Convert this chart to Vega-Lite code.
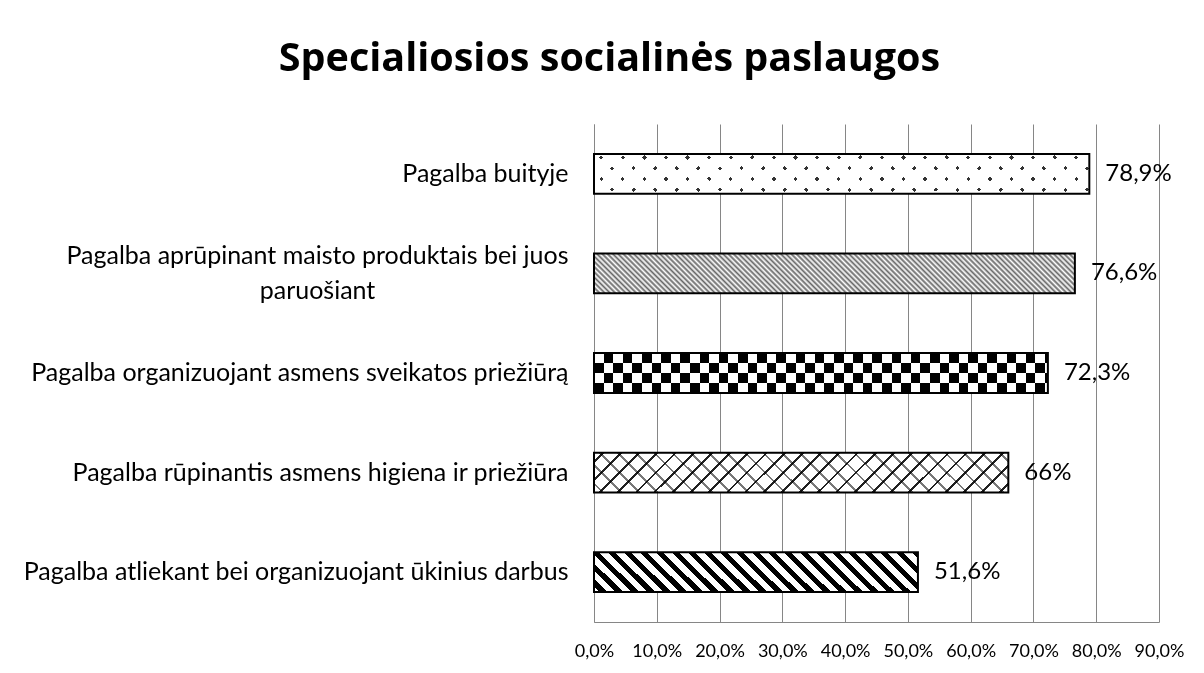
{
  "$schema": "https://vega.github.io/schema/vega-lite/v6.json",
  "autosize": "none",
  "width": 565,
  "height": 498,
  "padding": {"left": 594, "top": 124, "right": 45, "bottom": 51},
  "background": "#ffffff",
  "config": {"view": {"stroke": null}, "font": "Lato"},
  "title": {"text": "Specialiosios socialinės paslaugos", "font": "Open Sans", "fontSize": 39.5, "fontWeight": "bold", "color": "#000000", "anchor": "middle", "frame": "group", "dx": -267, "offset": 14, "baseline": "alphabetic"},
  "data": {"values": [
    {"cat": "Pagalba buityje", "value": 0.789, "label": "78,9%"},
    {"cat": "Pagalba aprūpinant maisto produktais bei juos paruošiant", "value": 0.766, "label": "76,6%"},
    {"cat": "Pagalba organizuojant asmens sveikatos priežiūrą", "value": 0.723, "label": "72,3%"},
    {"cat": "Pagalba rūpinantis asmens higiena ir priežiūra", "value": 0.66, "label": "66%"},
    {"cat": "Pagalba atliekant bei organizuojant ūkinius darbus", "value": 0.516, "label": "51,6%"}
  ]},
  "encoding": {
    "y": {"field": "cat", "type": "nominal", "sort": null, "title": null,
      "scale": {"paddingInner": 0.6, "paddingOuter": 0.3},
      "axis": {"domain": true, "domainColor": "#868686", "domainWidth": 1, "ticks": false, "tickSize": 0,
        "labelPadding": {"condition": {"test": "indexof(datum.value, ' paruošiant') > 0", "value": 277}, "value": 26},
        "labelAlign": {"condition": {"test": "indexof(datum.value, ' paruošiant') > 0", "value": "center"}, "value": "right"},
        "labelOffset": {"condition": {"test": "indexof(datum.value, ' paruošiant') > 0", "value": -17}, "value": 0},
        "labelFont": "Lato", "labelFontSize": 25, "labelColor": "#000000", "labelLimit": 0, "labelLineHeight": 35,
        "labelExpr": "indexof(datum.label, ' paruošiant') > 0 ? [replace(datum.label, ' paruošiant', ''), 'paruošiant'] : datum.label"}},
    "x": {"field": "value", "type": "quantitative", "title": null,
      "scale": {"domain": [0, 0.9], "nice": false},
      "axis": {"values": [0, 0.1, 0.2, 0.3, 0.4, 0.5, 0.6, 0.7, 0.8, 0.9], "grid": true, "gridColor": "#868686", "gridWidth": 1, "gridOpacity": 1, "domain": true, "domainColor": "#868686", "ticks": false, "tickSize": 0, "labelPadding": 20, "labelFont": "Lato", "labelFontSize": 18, "labelColor": "#000000", "labelFlush": false,
        "labelExpr": "replace(format(datum.value, '.1%'), '.', ',')"}}
  },
  "layer": [
    {"mark": {"type": "bar"},
     "encoding": {"color": {"field": "cat", "type": "nominal", "legend": null,
       "scale": {"domain": ["Pagalba buityje", "Pagalba aprūpinant maisto produktais bei juos paruošiant", "Pagalba organizuojant asmens sveikatos priežiūrą", "Pagalba rūpinantis asmens higiena ir priežiūra", "Pagalba atliekant bei organizuojant ūkinius darbus"],
                 "range": ["#ffffff", "#b4b4b4", "#ffffff", "#ffffff", "#ffffff"]}}}},
    {"transform": [{"filter": {"field": "cat", "equal": "Pagalba buityje"}}],
     "mark": {"type": "bar", "fill": {"gradient": "linear", "x1": 0, "y1": 0, "x2": 1.0828, "y2": 0.0874, "stops": [
       {"offset":0.016,"color":"white"},{"offset":0.016,"color":"#333"},{"offset":0.024,"color":"#333"},{"offset":0.024,"color":"white"},
       {"offset":0.056,"color":"white"},{"offset":0.056,"color":"#333"},{"offset":0.064,"color":"#333"},{"offset":0.064,"color":"white"},
       {"offset":0.096,"color":"white"},{"offset":0.096,"color":"#333"},{"offset":0.104,"color":"#333"},{"offset":0.104,"color":"white"},
       {"offset":0.136,"color":"white"},{"offset":0.136,"color":"#333"},{"offset":0.144,"color":"#333"},{"offset":0.144,"color":"white"},
       {"offset":0.176,"color":"white"},{"offset":0.176,"color":"#333"},{"offset":0.184,"color":"#333"},{"offset":0.184,"color":"white"},
       {"offset":0.216,"color":"white"},{"offset":0.216,"color":"#333"},{"offset":0.224,"color":"#333"},{"offset":0.224,"color":"white"},
       {"offset":0.256,"color":"white"},{"offset":0.256,"color":"#333"},{"offset":0.264,"color":"#333"},{"offset":0.264,"color":"white"},
       {"offset":0.296,"color":"white"},{"offset":0.296,"color":"#333"},{"offset":0.304,"color":"#333"},{"offset":0.304,"color":"white"},
       {"offset":0.336,"color":"white"},{"offset":0.336,"color":"#333"},{"offset":0.344,"color":"#333"},{"offset":0.344,"color":"white"},
       {"offset":0.376,"color":"white"},{"offset":0.376,"color":"#333"},{"offset":0.384,"color":"#333"},{"offset":0.384,"color":"white"},
       {"offset":0.416,"color":"white"},{"offset":0.416,"color":"#333"},{"offset":0.424,"color":"#333"},{"offset":0.424,"color":"white"},
       {"offset":0.456,"color":"white"},{"offset":0.456,"color":"#333"},{"offset":0.464,"color":"#333"},{"offset":0.464,"color":"white"},
       {"offset":0.496,"color":"white"},{"offset":0.496,"color":"#333"},{"offset":0.504,"color":"#333"},{"offset":0.504,"color":"white"},
       {"offset":0.536,"color":"white"},{"offset":0.536,"color":"#333"},{"offset":0.544,"color":"#333"},{"offset":0.544,"color":"white"},
       {"offset":0.576,"color":"white"},{"offset":0.576,"color":"#333"},{"offset":0.584,"color":"#333"},{"offset":0.584,"color":"white"},
       {"offset":0.616,"color":"white"},{"offset":0.616,"color":"#333"},{"offset":0.624,"color":"#333"},{"offset":0.624,"color":"white"},
       {"offset":0.656,"color":"white"},{"offset":0.656,"color":"#333"},{"offset":0.664,"color":"#333"},{"offset":0.664,"color":"white"},
       {"offset":0.696,"color":"white"},{"offset":0.696,"color":"#333"},{"offset":0.704,"color":"#333"},{"offset":0.704,"color":"white"},
       {"offset":0.736,"color":"white"},{"offset":0.736,"color":"#333"},{"offset":0.744,"color":"#333"},{"offset":0.744,"color":"white"},
       {"offset":0.776,"color":"white"},{"offset":0.776,"color":"#333"},{"offset":0.784,"color":"#333"},{"offset":0.784,"color":"white"},
       {"offset":0.816,"color":"white"},{"offset":0.816,"color":"#333"},{"offset":0.824,"color":"#333"},{"offset":0.824,"color":"white"},
       {"offset":0.856,"color":"white"},{"offset":0.856,"color":"#333"},{"offset":0.864,"color":"#333"},{"offset":0.864,"color":"white"},
       {"offset":0.896,"color":"white"},{"offset":0.896,"color":"#333"},{"offset":0.904,"color":"#333"},{"offset":0.904,"color":"white"},
       {"offset":0.936,"color":"white"},{"offset":0.936,"color":"#333"},{"offset":0.944,"color":"#333"},{"offset":0.944,"color":"white"},
       {"offset":0.976,"color":"white"},{"offset":0.976,"color":"#333"},{"offset":0.984,"color":"#333"},{"offset":0.984,"color":"white"}
     ]}}},
    {"transform": [{"filter": {"field": "cat", "equal": "Pagalba buityje"}}],
     "mark": {"type": "bar", "blend": "lighten", "fill": {"gradient": "linear", "x1": -0.1017, "y1": 0, "x2": 0.9811, "y2": -0.0874, "stops": [
       {"offset":0.016,"color":"white"},{"offset":0.016,"color":"#333"},{"offset":0.024,"color":"#333"},{"offset":0.024,"color":"white"},
       {"offset":0.056,"color":"white"},{"offset":0.056,"color":"#333"},{"offset":0.064,"color":"#333"},{"offset":0.064,"color":"white"},
       {"offset":0.096,"color":"white"},{"offset":0.096,"color":"#333"},{"offset":0.104,"color":"#333"},{"offset":0.104,"color":"white"},
       {"offset":0.136,"color":"white"},{"offset":0.136,"color":"#333"},{"offset":0.144,"color":"#333"},{"offset":0.144,"color":"white"},
       {"offset":0.176,"color":"white"},{"offset":0.176,"color":"#333"},{"offset":0.184,"color":"#333"},{"offset":0.184,"color":"white"},
       {"offset":0.216,"color":"white"},{"offset":0.216,"color":"#333"},{"offset":0.224,"color":"#333"},{"offset":0.224,"color":"white"},
       {"offset":0.256,"color":"white"},{"offset":0.256,"color":"#333"},{"offset":0.264,"color":"#333"},{"offset":0.264,"color":"white"},
       {"offset":0.296,"color":"white"},{"offset":0.296,"color":"#333"},{"offset":0.304,"color":"#333"},{"offset":0.304,"color":"white"},
       {"offset":0.336,"color":"white"},{"offset":0.336,"color":"#333"},{"offset":0.344,"color":"#333"},{"offset":0.344,"color":"white"},
       {"offset":0.376,"color":"white"},{"offset":0.376,"color":"#333"},{"offset":0.384,"color":"#333"},{"offset":0.384,"color":"white"},
       {"offset":0.416,"color":"white"},{"offset":0.416,"color":"#333"},{"offset":0.424,"color":"#333"},{"offset":0.424,"color":"white"},
       {"offset":0.456,"color":"white"},{"offset":0.456,"color":"#333"},{"offset":0.464,"color":"#333"},{"offset":0.464,"color":"white"},
       {"offset":0.496,"color":"white"},{"offset":0.496,"color":"#333"},{"offset":0.504,"color":"#333"},{"offset":0.504,"color":"white"},
       {"offset":0.536,"color":"white"},{"offset":0.536,"color":"#333"},{"offset":0.544,"color":"#333"},{"offset":0.544,"color":"white"},
       {"offset":0.576,"color":"white"},{"offset":0.576,"color":"#333"},{"offset":0.584,"color":"#333"},{"offset":0.584,"color":"white"},
       {"offset":0.616,"color":"white"},{"offset":0.616,"color":"#333"},{"offset":0.624,"color":"#333"},{"offset":0.624,"color":"white"},
       {"offset":0.656,"color":"white"},{"offset":0.656,"color":"#333"},{"offset":0.664,"color":"#333"},{"offset":0.664,"color":"white"},
       {"offset":0.696,"color":"white"},{"offset":0.696,"color":"#333"},{"offset":0.704,"color":"#333"},{"offset":0.704,"color":"white"},
       {"offset":0.736,"color":"white"},{"offset":0.736,"color":"#333"},{"offset":0.744,"color":"#333"},{"offset":0.744,"color":"white"},
       {"offset":0.776,"color":"white"},{"offset":0.776,"color":"#333"},{"offset":0.784,"color":"#333"},{"offset":0.784,"color":"white"},
       {"offset":0.816,"color":"white"},{"offset":0.816,"color":"#333"},{"offset":0.824,"color":"#333"},{"offset":0.824,"color":"white"},
       {"offset":0.856,"color":"white"},{"offset":0.856,"color":"#333"},{"offset":0.864,"color":"#333"},{"offset":0.864,"color":"white"},
       {"offset":0.896,"color":"white"},{"offset":0.896,"color":"#333"},{"offset":0.904,"color":"#333"},{"offset":0.904,"color":"white"},
       {"offset":0.936,"color":"white"},{"offset":0.936,"color":"#333"},{"offset":0.944,"color":"#333"},{"offset":0.944,"color":"white"},
       {"offset":0.976,"color":"white"},{"offset":0.976,"color":"#333"},{"offset":0.984,"color":"#333"},{"offset":0.984,"color":"white"}
     ]}}},
    {"transform": [{"filter": {"field": "cat", "equal": "Pagalba aprūpinant maisto produktais bei juos paruošiant"}}],
     "mark": {"type": "bar", "fill": {"gradient": "linear", "x1": -0.0873, "y1": 0, "x2": 0.9967, "y2": -0.0901, "stops": [
       {"offset":0,"color":"#fff"},{"offset":0.005,"color":"#666"},{"offset":0.01,"color":"#fff"},{"offset":0.015,"color":"#666"},{"offset":0.02,"color":"#fff"},{"offset":0.025,"color":"#666"},{"offset":0.03,"color":"#fff"},{"offset":0.035,"color":"#666"},{"offset":0.04,"color":"#fff"},{"offset":0.045,"color":"#666"},
       {"offset":0.05,"color":"#fff"},{"offset":0.055,"color":"#666"},{"offset":0.06,"color":"#fff"},{"offset":0.065,"color":"#666"},{"offset":0.07,"color":"#fff"},{"offset":0.075,"color":"#666"},{"offset":0.08,"color":"#fff"},{"offset":0.085,"color":"#666"},{"offset":0.09,"color":"#fff"},{"offset":0.095,"color":"#666"},
       {"offset":0.1,"color":"#fff"},{"offset":0.105,"color":"#666"},{"offset":0.11,"color":"#fff"},{"offset":0.115,"color":"#666"},{"offset":0.12,"color":"#fff"},{"offset":0.125,"color":"#666"},{"offset":0.13,"color":"#fff"},{"offset":0.135,"color":"#666"},{"offset":0.14,"color":"#fff"},{"offset":0.145,"color":"#666"},
       {"offset":0.15,"color":"#fff"},{"offset":0.155,"color":"#666"},{"offset":0.16,"color":"#fff"},{"offset":0.165,"color":"#666"},{"offset":0.17,"color":"#fff"},{"offset":0.175,"color":"#666"},{"offset":0.18,"color":"#fff"},{"offset":0.185,"color":"#666"},{"offset":0.19,"color":"#fff"},{"offset":0.195,"color":"#666"},
       {"offset":0.2,"color":"#fff"},{"offset":0.205,"color":"#666"},{"offset":0.21,"color":"#fff"},{"offset":0.215,"color":"#666"},{"offset":0.22,"color":"#fff"},{"offset":0.225,"color":"#666"},{"offset":0.23,"color":"#fff"},{"offset":0.235,"color":"#666"},{"offset":0.24,"color":"#fff"},{"offset":0.245,"color":"#666"},
       {"offset":0.25,"color":"#fff"},{"offset":0.255,"color":"#666"},{"offset":0.26,"color":"#fff"},{"offset":0.265,"color":"#666"},{"offset":0.27,"color":"#fff"},{"offset":0.275,"color":"#666"},{"offset":0.28,"color":"#fff"},{"offset":0.285,"color":"#666"},{"offset":0.29,"color":"#fff"},{"offset":0.295,"color":"#666"},
       {"offset":0.3,"color":"#fff"},{"offset":0.305,"color":"#666"},{"offset":0.31,"color":"#fff"},{"offset":0.315,"color":"#666"},{"offset":0.32,"color":"#fff"},{"offset":0.325,"color":"#666"},{"offset":0.33,"color":"#fff"},{"offset":0.335,"color":"#666"},{"offset":0.34,"color":"#fff"},{"offset":0.345,"color":"#666"},
       {"offset":0.35,"color":"#fff"},{"offset":0.355,"color":"#666"},{"offset":0.36,"color":"#fff"},{"offset":0.365,"color":"#666"},{"offset":0.37,"color":"#fff"},{"offset":0.375,"color":"#666"},{"offset":0.38,"color":"#fff"},{"offset":0.385,"color":"#666"},{"offset":0.39,"color":"#fff"},{"offset":0.395,"color":"#666"},
       {"offset":0.4,"color":"#fff"},{"offset":0.405,"color":"#666"},{"offset":0.41,"color":"#fff"},{"offset":0.415,"color":"#666"},{"offset":0.42,"color":"#fff"},{"offset":0.425,"color":"#666"},{"offset":0.43,"color":"#fff"},{"offset":0.435,"color":"#666"},{"offset":0.44,"color":"#fff"},{"offset":0.445,"color":"#666"},
       {"offset":0.45,"color":"#fff"},{"offset":0.455,"color":"#666"},{"offset":0.46,"color":"#fff"},{"offset":0.465,"color":"#666"},{"offset":0.47,"color":"#fff"},{"offset":0.475,"color":"#666"},{"offset":0.48,"color":"#fff"},{"offset":0.485,"color":"#666"},{"offset":0.49,"color":"#fff"},{"offset":0.495,"color":"#666"},
       {"offset":0.5,"color":"#fff"},{"offset":0.505,"color":"#666"},{"offset":0.51,"color":"#fff"},{"offset":0.515,"color":"#666"},{"offset":0.52,"color":"#fff"},{"offset":0.525,"color":"#666"},{"offset":0.53,"color":"#fff"},{"offset":0.535,"color":"#666"},{"offset":0.54,"color":"#fff"},{"offset":0.545,"color":"#666"},
       {"offset":0.55,"color":"#fff"},{"offset":0.555,"color":"#666"},{"offset":0.56,"color":"#fff"},{"offset":0.565,"color":"#666"},{"offset":0.57,"color":"#fff"},{"offset":0.575,"color":"#666"},{"offset":0.58,"color":"#fff"},{"offset":0.585,"color":"#666"},{"offset":0.59,"color":"#fff"},{"offset":0.595,"color":"#666"},
       {"offset":0.6,"color":"#fff"},{"offset":0.605,"color":"#666"},{"offset":0.61,"color":"#fff"},{"offset":0.615,"color":"#666"},{"offset":0.62,"color":"#fff"},{"offset":0.625,"color":"#666"},{"offset":0.63,"color":"#fff"},{"offset":0.635,"color":"#666"},{"offset":0.64,"color":"#fff"},{"offset":0.645,"color":"#666"},
       {"offset":0.65,"color":"#fff"},{"offset":0.655,"color":"#666"},{"offset":0.66,"color":"#fff"},{"offset":0.665,"color":"#666"},{"offset":0.67,"color":"#fff"},{"offset":0.675,"color":"#666"},{"offset":0.68,"color":"#fff"},{"offset":0.685,"color":"#666"},{"offset":0.69,"color":"#fff"},{"offset":0.695,"color":"#666"},
       {"offset":0.7,"color":"#fff"},{"offset":0.705,"color":"#666"},{"offset":0.71,"color":"#fff"},{"offset":0.715,"color":"#666"},{"offset":0.72,"color":"#fff"},{"offset":0.725,"color":"#666"},{"offset":0.73,"color":"#fff"},{"offset":0.735,"color":"#666"},{"offset":0.74,"color":"#fff"},{"offset":0.745,"color":"#666"},
       {"offset":0.75,"color":"#fff"},{"offset":0.755,"color":"#666"},{"offset":0.76,"color":"#fff"},{"offset":0.765,"color":"#666"},{"offset":0.77,"color":"#fff"},{"offset":0.775,"color":"#666"},{"offset":0.78,"color":"#fff"},{"offset":0.785,"color":"#666"},{"offset":0.79,"color":"#fff"},{"offset":0.795,"color":"#666"},
       {"offset":0.8,"color":"#fff"},{"offset":0.805,"color":"#666"},{"offset":0.81,"color":"#fff"},{"offset":0.815,"color":"#666"},{"offset":0.82,"color":"#fff"},{"offset":0.825,"color":"#666"},{"offset":0.83,"color":"#fff"},{"offset":0.835,"color":"#666"},{"offset":0.84,"color":"#fff"},{"offset":0.845,"color":"#666"},
       {"offset":0.85,"color":"#fff"},{"offset":0.855,"color":"#666"},{"offset":0.86,"color":"#fff"},{"offset":0.865,"color":"#666"},{"offset":0.87,"color":"#fff"},{"offset":0.875,"color":"#666"},{"offset":0.88,"color":"#fff"},{"offset":0.885,"color":"#666"},{"offset":0.89,"color":"#fff"},{"offset":0.895,"color":"#666"},
       {"offset":0.9,"color":"#fff"},{"offset":0.905,"color":"#666"},{"offset":0.91,"color":"#fff"},{"offset":0.915,"color":"#666"},{"offset":0.92,"color":"#fff"},{"offset":0.925,"color":"#666"},{"offset":0.93,"color":"#fff"},{"offset":0.935,"color":"#666"},{"offset":0.94,"color":"#fff"},{"offset":0.945,"color":"#666"},
       {"offset":0.95,"color":"#fff"},{"offset":0.955,"color":"#666"},{"offset":0.96,"color":"#fff"},{"offset":0.965,"color":"#666"},{"offset":0.97,"color":"#fff"},{"offset":0.975,"color":"#666"},{"offset":0.98,"color":"#fff"},{"offset":0.985,"color":"#666"},{"offset":0.99,"color":"#fff"},{"offset":0.995,"color":"#666"},
       {"offset":1,"color":"#fff"}
     ]}}},
    {"transform": [{"filter": {"field": "cat", "equal": "Pagalba organizuojant asmens sveikatos priežiūrą"}}],
     "mark": {"type": "bar", "fill": {"gradient": "linear", "x1": 0, "y1": 0, "x2": 1.05727, "y2": 0, "stops": [
       {"offset":0,"color":"black"},{"offset":0.02,"color":"black"},{"offset":0.02,"color":"white"},{"offset":0.04,"color":"white"},
       {"offset":0.04,"color":"black"},{"offset":0.06,"color":"black"},{"offset":0.06,"color":"white"},{"offset":0.08,"color":"white"},
       {"offset":0.08,"color":"black"},{"offset":0.1,"color":"black"},{"offset":0.1,"color":"white"},{"offset":0.12,"color":"white"},
       {"offset":0.12,"color":"black"},{"offset":0.14,"color":"black"},{"offset":0.14,"color":"white"},{"offset":0.16,"color":"white"},
       {"offset":0.16,"color":"black"},{"offset":0.18,"color":"black"},{"offset":0.18,"color":"white"},{"offset":0.2,"color":"white"},
       {"offset":0.2,"color":"black"},{"offset":0.22,"color":"black"},{"offset":0.22,"color":"white"},{"offset":0.24,"color":"white"},
       {"offset":0.24,"color":"black"},{"offset":0.26,"color":"black"},{"offset":0.26,"color":"white"},{"offset":0.28,"color":"white"},
       {"offset":0.28,"color":"black"},{"offset":0.3,"color":"black"},{"offset":0.3,"color":"white"},{"offset":0.32,"color":"white"},
       {"offset":0.32,"color":"black"},{"offset":0.34,"color":"black"},{"offset":0.34,"color":"white"},{"offset":0.36,"color":"white"},
       {"offset":0.36,"color":"black"},{"offset":0.38,"color":"black"},{"offset":0.38,"color":"white"},{"offset":0.4,"color":"white"},
       {"offset":0.4,"color":"black"},{"offset":0.42,"color":"black"},{"offset":0.42,"color":"white"},{"offset":0.44,"color":"white"},
       {"offset":0.44,"color":"black"},{"offset":0.46,"color":"black"},{"offset":0.46,"color":"white"},{"offset":0.48,"color":"white"},
       {"offset":0.48,"color":"black"},{"offset":0.5,"color":"black"},{"offset":0.5,"color":"white"},{"offset":0.52,"color":"white"},
       {"offset":0.52,"color":"black"},{"offset":0.54,"color":"black"},{"offset":0.54,"color":"white"},{"offset":0.56,"color":"white"},
       {"offset":0.56,"color":"black"},{"offset":0.58,"color":"black"},{"offset":0.58,"color":"white"},{"offset":0.6,"color":"white"},
       {"offset":0.6,"color":"black"},{"offset":0.62,"color":"black"},{"offset":0.62,"color":"white"},{"offset":0.64,"color":"white"},
       {"offset":0.64,"color":"black"},{"offset":0.66,"color":"black"},{"offset":0.66,"color":"white"},{"offset":0.68,"color":"white"},
       {"offset":0.68,"color":"black"},{"offset":0.7,"color":"black"},{"offset":0.7,"color":"white"},{"offset":0.72,"color":"white"},
       {"offset":0.72,"color":"black"},{"offset":0.74,"color":"black"},{"offset":0.74,"color":"white"},{"offset":0.76,"color":"white"},
       {"offset":0.76,"color":"black"},{"offset":0.78,"color":"black"},{"offset":0.78,"color":"white"},{"offset":0.8,"color":"white"},
       {"offset":0.8,"color":"black"},{"offset":0.82,"color":"black"},{"offset":0.82,"color":"white"},{"offset":0.84,"color":"white"},
       {"offset":0.84,"color":"black"},{"offset":0.86,"color":"black"},{"offset":0.86,"color":"white"},{"offset":0.88,"color":"white"},
       {"offset":0.88,"color":"black"},{"offset":0.9,"color":"black"},{"offset":0.9,"color":"white"},{"offset":0.92,"color":"white"},
       {"offset":0.92,"color":"black"},{"offset":0.94,"color":"black"},{"offset":0.94,"color":"white"},{"offset":0.96,"color":"white"},
       {"offset":0.96,"color":"black"},{"offset":0.98,"color":"black"},{"offset":0.98,"color":"white"},{"offset":1,"color":"white"}
     ]}}},
    {"transform": [{"filter": {"field": "cat", "equal": "Pagalba organizuojant asmens sveikatos priežiūrą"}}],
     "mark": {"type": "bar", "blend": "difference", "fill": {"gradient": "linear", "x1": 0, "y1": 0, "x2": 0, "y2": 1, "stops": [
       {"offset":0,"color":"white"},{"offset":0.25,"color":"white"},{"offset":0.25,"color":"black"},{"offset":0.5,"color":"black"},
       {"offset":0.5,"color":"white"},{"offset":0.75,"color":"white"},{"offset":0.75,"color":"black"},{"offset":1,"color":"black"}
     ]}}},
    {"transform": [{"filter": {"field": "cat", "equal": "Pagalba rūpinantis asmens higiena ir priežiūra"}}],
     "mark": {"type": "bar", "fill": {"gradient": "linear", "x1": 0, "y1": 0, "x2": 1.0876, "y2": 0.1049, "stops": [
       {"offset":0.017,"color":"white"},{"offset":0.017,"color":"#222"},{"offset":0.023,"color":"#222"},{"offset":0.023,"color":"white"},
       {"offset":0.057,"color":"white"},{"offset":0.057,"color":"#222"},{"offset":0.063,"color":"#222"},{"offset":0.063,"color":"white"},
       {"offset":0.097,"color":"white"},{"offset":0.097,"color":"#222"},{"offset":0.103,"color":"#222"},{"offset":0.103,"color":"white"},
       {"offset":0.137,"color":"white"},{"offset":0.137,"color":"#222"},{"offset":0.143,"color":"#222"},{"offset":0.143,"color":"white"},
       {"offset":0.177,"color":"white"},{"offset":0.177,"color":"#222"},{"offset":0.183,"color":"#222"},{"offset":0.183,"color":"white"},
       {"offset":0.217,"color":"white"},{"offset":0.217,"color":"#222"},{"offset":0.223,"color":"#222"},{"offset":0.223,"color":"white"},
       {"offset":0.257,"color":"white"},{"offset":0.257,"color":"#222"},{"offset":0.263,"color":"#222"},{"offset":0.263,"color":"white"},
       {"offset":0.297,"color":"white"},{"offset":0.297,"color":"#222"},{"offset":0.303,"color":"#222"},{"offset":0.303,"color":"white"},
       {"offset":0.337,"color":"white"},{"offset":0.337,"color":"#222"},{"offset":0.343,"color":"#222"},{"offset":0.343,"color":"white"},
       {"offset":0.377,"color":"white"},{"offset":0.377,"color":"#222"},{"offset":0.383,"color":"#222"},{"offset":0.383,"color":"white"},
       {"offset":0.417,"color":"white"},{"offset":0.417,"color":"#222"},{"offset":0.423,"color":"#222"},{"offset":0.423,"color":"white"},
       {"offset":0.457,"color":"white"},{"offset":0.457,"color":"#222"},{"offset":0.463,"color":"#222"},{"offset":0.463,"color":"white"},
       {"offset":0.497,"color":"white"},{"offset":0.497,"color":"#222"},{"offset":0.503,"color":"#222"},{"offset":0.503,"color":"white"},
       {"offset":0.537,"color":"white"},{"offset":0.537,"color":"#222"},{"offset":0.543,"color":"#222"},{"offset":0.543,"color":"white"},
       {"offset":0.577,"color":"white"},{"offset":0.577,"color":"#222"},{"offset":0.583,"color":"#222"},{"offset":0.583,"color":"white"},
       {"offset":0.617,"color":"white"},{"offset":0.617,"color":"#222"},{"offset":0.623,"color":"#222"},{"offset":0.623,"color":"white"},
       {"offset":0.657,"color":"white"},{"offset":0.657,"color":"#222"},{"offset":0.663,"color":"#222"},{"offset":0.663,"color":"white"},
       {"offset":0.697,"color":"white"},{"offset":0.697,"color":"#222"},{"offset":0.703,"color":"#222"},{"offset":0.703,"color":"white"},
       {"offset":0.737,"color":"white"},{"offset":0.737,"color":"#222"},{"offset":0.743,"color":"#222"},{"offset":0.743,"color":"white"},
       {"offset":0.777,"color":"white"},{"offset":0.777,"color":"#222"},{"offset":0.783,"color":"#222"},{"offset":0.783,"color":"white"},
       {"offset":0.817,"color":"white"},{"offset":0.817,"color":"#222"},{"offset":0.823,"color":"#222"},{"offset":0.823,"color":"white"},
       {"offset":0.857,"color":"white"},{"offset":0.857,"color":"#222"},{"offset":0.863,"color":"#222"},{"offset":0.863,"color":"white"},
       {"offset":0.897,"color":"white"},{"offset":0.897,"color":"#222"},{"offset":0.903,"color":"#222"},{"offset":0.903,"color":"white"},
       {"offset":0.937,"color":"white"},{"offset":0.937,"color":"#222"},{"offset":0.943,"color":"#222"},{"offset":0.943,"color":"white"},
       {"offset":0.977,"color":"white"},{"offset":0.977,"color":"#222"},{"offset":0.983,"color":"#222"},{"offset":0.983,"color":"white"}
     ]}}},
    {"transform": [{"filter": {"field": "cat", "equal": "Pagalba rūpinantis asmens higiena ir priežiūra"}}],
     "mark": {"type": "bar", "blend": "multiply", "fill": {"gradient": "linear", "x1": -0.0965, "y1": 0, "x2": 0.9911, "y2": -0.1049, "stops": [
       {"offset":0.017,"color":"white"},{"offset":0.017,"color":"#777"},{"offset":0.023,"color":"#777"},{"offset":0.023,"color":"white"},
       {"offset":0.057,"color":"white"},{"offset":0.057,"color":"#777"},{"offset":0.063,"color":"#777"},{"offset":0.063,"color":"white"},
       {"offset":0.097,"color":"white"},{"offset":0.097,"color":"#777"},{"offset":0.103,"color":"#777"},{"offset":0.103,"color":"white"},
       {"offset":0.137,"color":"white"},{"offset":0.137,"color":"#777"},{"offset":0.143,"color":"#777"},{"offset":0.143,"color":"white"},
       {"offset":0.177,"color":"white"},{"offset":0.177,"color":"#777"},{"offset":0.183,"color":"#777"},{"offset":0.183,"color":"white"},
       {"offset":0.217,"color":"white"},{"offset":0.217,"color":"#777"},{"offset":0.223,"color":"#777"},{"offset":0.223,"color":"white"},
       {"offset":0.257,"color":"white"},{"offset":0.257,"color":"#777"},{"offset":0.263,"color":"#777"},{"offset":0.263,"color":"white"},
       {"offset":0.297,"color":"white"},{"offset":0.297,"color":"#777"},{"offset":0.303,"color":"#777"},{"offset":0.303,"color":"white"},
       {"offset":0.337,"color":"white"},{"offset":0.337,"color":"#777"},{"offset":0.343,"color":"#777"},{"offset":0.343,"color":"white"},
       {"offset":0.377,"color":"white"},{"offset":0.377,"color":"#777"},{"offset":0.383,"color":"#777"},{"offset":0.383,"color":"white"},
       {"offset":0.417,"color":"white"},{"offset":0.417,"color":"#777"},{"offset":0.423,"color":"#777"},{"offset":0.423,"color":"white"},
       {"offset":0.457,"color":"white"},{"offset":0.457,"color":"#777"},{"offset":0.463,"color":"#777"},{"offset":0.463,"color":"white"},
       {"offset":0.497,"color":"white"},{"offset":0.497,"color":"#777"},{"offset":0.503,"color":"#777"},{"offset":0.503,"color":"white"},
       {"offset":0.537,"color":"white"},{"offset":0.537,"color":"#777"},{"offset":0.543,"color":"#777"},{"offset":0.543,"color":"white"},
       {"offset":0.577,"color":"white"},{"offset":0.577,"color":"#777"},{"offset":0.583,"color":"#777"},{"offset":0.583,"color":"white"},
       {"offset":0.617,"color":"white"},{"offset":0.617,"color":"#777"},{"offset":0.623,"color":"#777"},{"offset":0.623,"color":"white"},
       {"offset":0.657,"color":"white"},{"offset":0.657,"color":"#777"},{"offset":0.663,"color":"#777"},{"offset":0.663,"color":"white"},
       {"offset":0.697,"color":"white"},{"offset":0.697,"color":"#777"},{"offset":0.703,"color":"#777"},{"offset":0.703,"color":"white"},
       {"offset":0.737,"color":"white"},{"offset":0.737,"color":"#777"},{"offset":0.743,"color":"#777"},{"offset":0.743,"color":"white"},
       {"offset":0.777,"color":"white"},{"offset":0.777,"color":"#777"},{"offset":0.783,"color":"#777"},{"offset":0.783,"color":"white"},
       {"offset":0.817,"color":"white"},{"offset":0.817,"color":"#777"},{"offset":0.823,"color":"#777"},{"offset":0.823,"color":"white"},
       {"offset":0.857,"color":"white"},{"offset":0.857,"color":"#777"},{"offset":0.863,"color":"#777"},{"offset":0.863,"color":"white"},
       {"offset":0.897,"color":"white"},{"offset":0.897,"color":"#777"},{"offset":0.903,"color":"#777"},{"offset":0.903,"color":"white"},
       {"offset":0.937,"color":"white"},{"offset":0.937,"color":"#777"},{"offset":0.943,"color":"#777"},{"offset":0.943,"color":"white"},
       {"offset":0.977,"color":"white"},{"offset":0.977,"color":"#777"},{"offset":0.983,"color":"#777"},{"offset":0.983,"color":"white"}
     ]}}},
    {"transform": [{"filter": {"field": "cat", "equal": "Pagalba atliekant bei organizuojant ūkinius darbus"}}],
     "mark": {"type": "bar", "fill": {"gradient": "linear", "x1": -0.15432, "y1": 0, "x2": 1.06171, "y2": -0.15013, "stops": [
       {"offset":0,"color":"black"},{"offset":0.018,"color":"black"},{"offset":0.018,"color":"white"},{"offset":0.04,"color":"white"},
       {"offset":0.04,"color":"black"},{"offset":0.058,"color":"black"},{"offset":0.058,"color":"white"},{"offset":0.08,"color":"white"},
       {"offset":0.08,"color":"black"},{"offset":0.098,"color":"black"},{"offset":0.098,"color":"white"},{"offset":0.12,"color":"white"},
       {"offset":0.12,"color":"black"},{"offset":0.138,"color":"black"},{"offset":0.138,"color":"white"},{"offset":0.16,"color":"white"},
       {"offset":0.16,"color":"black"},{"offset":0.178,"color":"black"},{"offset":0.178,"color":"white"},{"offset":0.2,"color":"white"},
       {"offset":0.2,"color":"black"},{"offset":0.218,"color":"black"},{"offset":0.218,"color":"white"},{"offset":0.24,"color":"white"},
       {"offset":0.24,"color":"black"},{"offset":0.258,"color":"black"},{"offset":0.258,"color":"white"},{"offset":0.28,"color":"white"},
       {"offset":0.28,"color":"black"},{"offset":0.298,"color":"black"},{"offset":0.298,"color":"white"},{"offset":0.32,"color":"white"},
       {"offset":0.32,"color":"black"},{"offset":0.338,"color":"black"},{"offset":0.338,"color":"white"},{"offset":0.36,"color":"white"},
       {"offset":0.36,"color":"black"},{"offset":0.378,"color":"black"},{"offset":0.378,"color":"white"},{"offset":0.4,"color":"white"},
       {"offset":0.4,"color":"black"},{"offset":0.418,"color":"black"},{"offset":0.418,"color":"white"},{"offset":0.44,"color":"white"},
       {"offset":0.44,"color":"black"},{"offset":0.458,"color":"black"},{"offset":0.458,"color":"white"},{"offset":0.48,"color":"white"},
       {"offset":0.48,"color":"black"},{"offset":0.498,"color":"black"},{"offset":0.498,"color":"white"},{"offset":0.52,"color":"white"},
       {"offset":0.52,"color":"black"},{"offset":0.538,"color":"black"},{"offset":0.538,"color":"white"},{"offset":0.56,"color":"white"},
       {"offset":0.56,"color":"black"},{"offset":0.578,"color":"black"},{"offset":0.578,"color":"white"},{"offset":0.6,"color":"white"},
       {"offset":0.6,"color":"black"},{"offset":0.618,"color":"black"},{"offset":0.618,"color":"white"},{"offset":0.64,"color":"white"},
       {"offset":0.64,"color":"black"},{"offset":0.658,"color":"black"},{"offset":0.658,"color":"white"},{"offset":0.68,"color":"white"},
       {"offset":0.68,"color":"black"},{"offset":0.698,"color":"black"},{"offset":0.698,"color":"white"},{"offset":0.72,"color":"white"},
       {"offset":0.72,"color":"black"},{"offset":0.738,"color":"black"},{"offset":0.738,"color":"white"},{"offset":0.76,"color":"white"},
       {"offset":0.76,"color":"black"},{"offset":0.778,"color":"black"},{"offset":0.778,"color":"white"},{"offset":0.8,"color":"white"},
       {"offset":0.8,"color":"black"},{"offset":0.818,"color":"black"},{"offset":0.818,"color":"white"},{"offset":0.84,"color":"white"},
       {"offset":0.84,"color":"black"},{"offset":0.858,"color":"black"},{"offset":0.858,"color":"white"},{"offset":0.88,"color":"white"},
       {"offset":0.88,"color":"black"},{"offset":0.898,"color":"black"},{"offset":0.898,"color":"white"},{"offset":0.92,"color":"white"},
       {"offset":0.92,"color":"black"},{"offset":0.938,"color":"black"},{"offset":0.938,"color":"white"},{"offset":0.96,"color":"white"},
       {"offset":0.96,"color":"black"},{"offset":0.978,"color":"black"},{"offset":0.978,"color":"white"},{"offset":1,"color":"white"}
     ]}}},
    {"mark": {"type": "bar", "fillOpacity": 0, "stroke": "#000000", "strokeWidth": 2}},
    {"mark": {"type": "text", "align": "left", "baseline": "middle", "dx": 16, "font": "Lato", "fontSize": 24, "color": "#000000"},
     "encoding": {"text": {"field": "label", "type": "nominal"}}}
  ]
}
